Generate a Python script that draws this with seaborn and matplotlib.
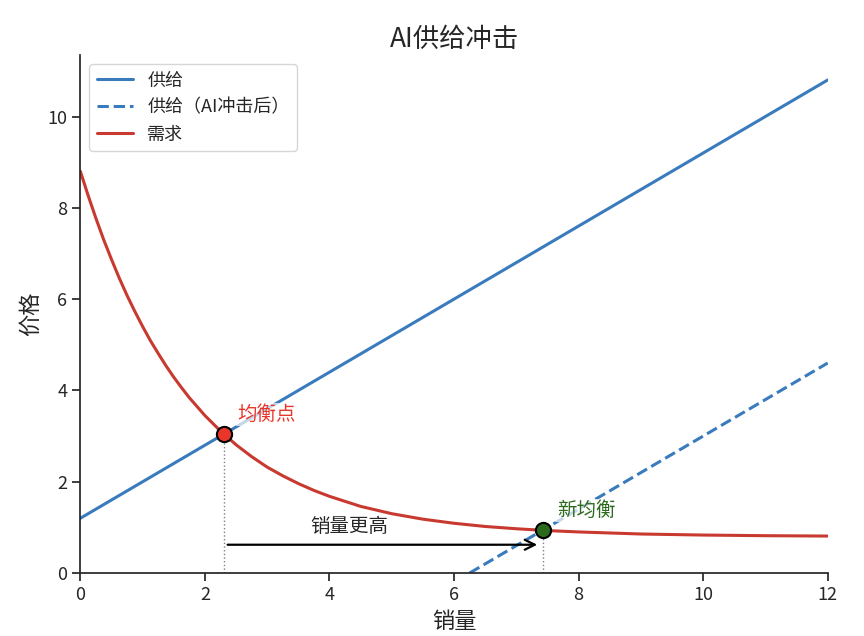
import numpy as np
import pandas as pd
import seaborn as sns
import matplotlib
matplotlib.use("Agg")
import matplotlib.pyplot as plt

sns.set_theme(style="ticks")
plt.rcParams["font.family"] = ["Noto Sans CJK SC", "DejaVu Sans"]
plt.rcParams["axes.unicode_minus"] = False

# supply lines
supply_x = [0, 12]
supply_y = [1.2, 10.8]
shifted_x = [6.25, 12]
shifted_y = [0.0, 4.6]

# demand curve samples
demand_x = [0, 0.125, 0.25, 0.375, 0.5, 0.625, 0.75, 0.875, 1.0, 1.125, 1.25,
            1.375, 1.5, 1.625, 1.75, 2.0, 2.25, 2.5, 2.75,
            3.0, 3.25, 3.5, 3.75, 4.0, 4.5, 5.0, 5.5, 6.0, 6.5, 7.0, 7.5,
            8.0, 9.0, 10.0, 11.0, 12.0]
demand_y = [8.8, 8.27, 7.77, 7.30, 6.87, 6.46, 6.08, 5.73, 5.40, 5.09, 4.81,
            4.54, 4.29, 4.06, 3.84, 3.45, 3.11, 2.81, 2.55,
            2.32, 2.13, 1.96, 1.81, 1.68, 1.46, 1.30, 1.18, 1.09, 1.02, 0.97, 0.93,
            0.90, 0.855, 0.832, 0.818, 0.81]

# equilibrium points
eq_x, eq_y = 2.3, 3.04
new_eq_x, new_eq_y = 7.43, 0.94

blue = "#3a7bbd"
red = "#c8392f"

fig, ax = plt.subplots(figsize=(8.64, 6.36), dpi=100)

sns.lineplot(x=supply_x, y=supply_y, ax=ax, color=blue, lw=2.2, label="供给")
sns.lineplot(x=shifted_x, y=shifted_y, ax=ax, color=blue, lw=2.2,
             linestyle="--", label="供给（AI冲击后）")
sns.lineplot(x=demand_x, y=demand_y, ax=ax, color=red, lw=2.2, label="需求")

# dotted guides down to the x axis
ax.vlines([eq_x, new_eq_x], 0, [eq_y, new_eq_y], colors="grey",
          linestyles=":", lw=1, zorder=1)

ax.scatter([eq_x], [eq_y], s=120, color="#e8362a", edgecolor="black",
           linewidth=1.5, zorder=5)
ax.scatter([new_eq_x], [new_eq_y], s=120, color="#2b6a1c", edgecolor="black",
           linewidth=1.5, zorder=5)

ax.text(eq_x + 0.22, eq_y + 0.2, "均衡点", color="#e8362a", fontsize=14,
        va="bottom", ha="left",
        bbox=dict(facecolor="white", edgecolor="none", alpha=0.7, pad=1))
ax.text(new_eq_x + 0.22, new_eq_y + 0.2, "新均衡", color="#2b6a1c", fontsize=14,
        va="bottom", ha="left",
        bbox=dict(facecolor="white", edgecolor="none", alpha=0.7, pad=1))

ax.annotate("", xy=(new_eq_x - 0.05, 0.62), xytext=(eq_x + 0.02, 0.62),
            arrowprops=dict(arrowstyle="->", color="black", lw=1.6,
                            mutation_scale=18))
ax.text((eq_x + new_eq_x) / 2 - 0.55, 0.8, "销量更高", fontsize=14,
        ha="center", va="bottom")

ax.set_xlim(0, 12)
ax.set_ylim(0, 11.34)
ax.set_xticks([0, 2, 4, 6, 8, 10, 12])
ax.set_yticks([0, 2, 4, 6, 8, 10])
ax.tick_params(labelsize=13)
ax.set_xlabel("销量", fontsize=16)
ax.set_ylabel("价格", fontsize=16)
ax.set_title("AI供给冲击", fontsize=19)
ax.legend(loc="upper left", fontsize=13, frameon=True)
sns.despine(ax=ax)

fig.subplots_adjust(left=0.093, right=0.958, top=0.913, bottom=0.099)
fig.savefig("out.png", dpi=100)
plt.close(fig)
